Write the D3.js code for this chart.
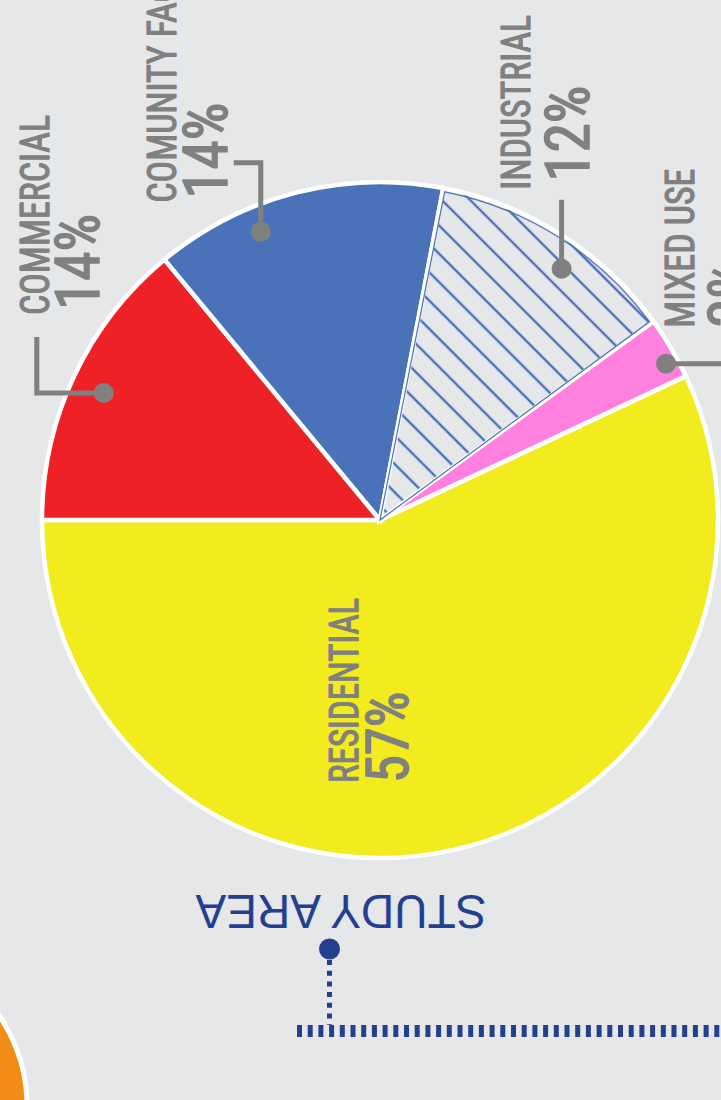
<!DOCTYPE html>
<html>
<head>
<meta charset="utf-8">
<script src="https://cdn.jsdelivr.net/npm/d3@7"></script>
<style>
  html, body { margin: 0; padding: 0; background: #E6E7E9; }
  svg { display: block; }
  .lbl { fill: #808080; stroke: #808080; stroke-linejoin: round; font-family: "Liberation Sans Narrow", "Roboto Condensed", "DejaVu Sans Condensed", "DejaVu Sans", sans-serif; font-weight: normal; }
</style>
</head>
<body>
<svg id="chart" width="721" height="1100"></svg>
<script>
// land use split of the study area
const categories = ["RESIDENTIAL", "COMMERCIAL", "COMUNITY FACILITIES", "INDUSTRIAL", "MIXED USE"];
const shares = [57, 14, 14, 12, 3];
const pctLabels = ["57%", "14%", "14%", "12%", "3%"];
const sliceColors = ["#F2EB1E", "#EE2226", "#4A72B8", "url(#hatch)", "#FF80DF"];

const W = 721, H = 1100;
const cx = 380, cy = 520, R = 338;
const grey = "#808080", navy = "#253F8F";

const svg = d3.select("#chart");

svg.append("rect").attr("width", W).attr("height", H).attr("fill", "#E6E7E9");

/* ---------- hatch for industrial ---------- */
const defs = svg.append("defs");
const hatch = defs.append("pattern")
  .attr("id", "hatch")
  .attr("patternUnits", "userSpaceOnUse")
  .attr("width", 20).attr("height", 20)
  .attr("patternTransform", "rotate(-45)");
hatch.append("rect").attr("width", 20).attr("height", 20).attr("fill", "#E6E7E9");
hatch.append("line")
  .attr("x1", 10).attr("y1", 0).attr("x2", 10).attr("y2", 20)
  .attr("stroke", "#4A72B8").attr("stroke-width", 2.4);

/* ---------- orange neighbour circle (bottom left) ---------- */
svg.append("circle")
  .attr("cx", -130).attr("cy", 1105).attr("r", 157)
  .attr("fill", "#F28C14").attr("stroke", "#fff").attr("stroke-width", 5);

/* ---------- pie ---------- */
const deg = Math.PI / 180;
const pie = d3.pie().sort(null).value(d => d.v)
  .startAngle(64.8 * deg).endAngle(424.8 * deg);
const data = categories.map((c, i) => ({ name: c, v: shares[i], pct: pctLabels[i], color: sliceColors[i] }));
const arcs = pie(data);

const arc = d3.arc().innerRadius(0).outerRadius(R);
const pieG = svg.append("g").attr("transform", `translate(${cx},${cy})`);

pieG.selectAll("path.slice")
  .data(arcs)
  .join("path")
  .attr("class", "slice")
  .attr("d", arc)
  .attr("fill", d => d.data.color)
  .attr("stroke", "#fff")
  .attr("stroke-width", 4.5)
  .attr("stroke-linejoin", "miter");

// thin blue outline just inside the hatched slice
const insetArc = d3.arc().innerRadius(0).outerRadius(R - 3.5).padAngle(0.012);
pieG.selectAll("path.inset")
  .data(arcs.filter(d => d.data.name === "INDUSTRIAL"))
  .join("path")
  .attr("class", "inset")
  .attr("d", insetArc)
  .attr("fill", "none")
  .attr("stroke", "#4A72B8")
  .attr("stroke-width", 1.2);

/* ---------- labels ---------- */
// hand placement of each callout: where the dot sits inside its slice,
// the leader bend points and the text anchors, all relative to the dot
const callouts = {
  "COMMERCIAL":          { frac: 0.49, rad: 304, leader: [[0, 0], [-67, 0], [-67, -56]], name: [-55, -78], pct: [-5, -83] },
  "COMUNITY FACILITIES": { frac: 0.34, rad: 312, leader: [[0, 0], [0, -69], [-27, -69]], name: [-85, -29], pct: [-34, -33] },
  "INDUSTRIAL":          { frac: 0.58, rad: 310, leader: [[0, 0], [0, -69]], name: [-32, -79], pct: [27, -87] },
  "MIXED USE":           { frac: 0.68, rad: 326, leader: [[0, 0], [70, 0], [70, 40]], name: [28, -36], pct: [86, -36] }
};

const nameSize = 41, pctSize = 62;
const nameStroke = 1.2, pctStroke = 1.6;

// the source face is a condensed grotesque; squeeze whatever font we get
// so that "COMMERCIAL" and "14%" come out at the reference lengths
function squeeze(str, size, target) {
  const t = svg.append("text").attr("class", "lbl").attr("font-size", size).text(str);
  const len = t.node().getComputedTextLength();
  t.remove();
  return len > 0 ? target / len : 1;
}
const kName = squeeze("COMMERCIAL", nameSize, 200);
const kPct = squeeze("14%", pctSize, 96);

function addText(x, y, str, size, k, sw) {
  return svg.append("text")
    .attr("class", "lbl")
    .attr("transform", `translate(${x},${y}) rotate(-90) scale(${k},1)`)
    .attr("font-size", size)
    .attr("stroke-width", sw)
    .text(str);
}

arcs.forEach(d => {
  const c = callouts[d.data.name];
  if (!c) {
    // residential sits inside its own slice, no leader
    addText(cx - 22, cy + 263, d.data.name, nameSize - 1, kName, nameStroke);
    addText(cx + 28, cy + 263, d.data.pct, pctSize - 3, kPct, pctStroke);
    return;
  }
  const a = d.startAngle + c.frac * (d.endAngle - d.startAngle);
  const dx = cx + c.rad * Math.sin(a), dy = cy - c.rad * Math.cos(a);

  svg.append("path")
    .attr("d", d3.line()(c.leader.map(p => [dx + p[0], dy + p[1]])))
    .attr("fill", "none").attr("stroke", grey).attr("stroke-width", 5);
  svg.append("circle").attr("cx", dx).attr("cy", dy).attr("r", 10).attr("fill", grey);

  addText(dx + c.name[0], dy + c.name[1], d.data.name, nameSize, kName, nameStroke);
  addText(dx + c.pct[0], dy + c.pct[1], d.data.pct, pctSize, kPct, pctStroke);
});

/* ---------- study area marker ---------- */
const study = svg.append("text")
  .attr("text-anchor", "middle")
  .attr("font-family", "'Liberation Sans', Arial, sans-serif")
  .attr("font-size", 48)
  .attr("fill", navy)
  .text("STUDY AREA");
const kStudy = 291 / (study.node().getComputedTextLength() || 291);
study.attr("transform", `translate(341,895) rotate(180) scale(${kStudy},1)`);

svg.append("line")
  .attr("x1", 329.5).attr("y1", 960).attr("x2", 329.5).attr("y2", 1025)
  .attr("stroke", navy).attr("stroke-width", 5).attr("stroke-dasharray", "5,5.7");
svg.append("line")
  .attr("x1", 297).attr("y1", 1031).attr("x2", W).attr("y2", 1031)
  .attr("stroke", navy).attr("stroke-width", 12).attr("stroke-dasharray", "5,5.7");
svg.append("circle").attr("cx", 329.5).attr("cy", 949).attr("r", 10.5).attr("fill", navy);
</script>
</body>
</html>
